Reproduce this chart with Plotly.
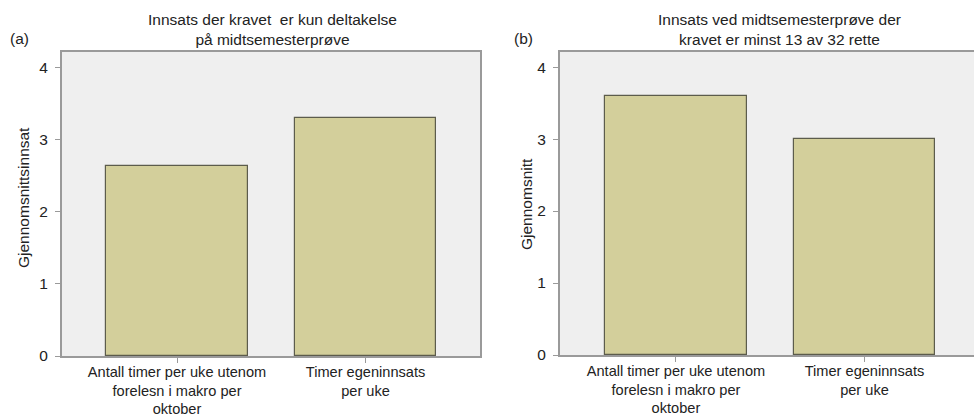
import plotly.graph_objects as go

categories = ["Antall timer per uke utenom<br>forelesn i makro per<br>oktober",
              "Timer egeninnsats<br>per uke"]
values_a = [2.63, 3.30]
values_b = [3.60, 3.00]
y_ticks = [0, 1, 2, 3, 4]
title_a = "Innsats der kravet  er kun deltakelse<br>på midtsemesterprøve"
title_b = "Innsats ved midtsemesterprøve der<br>kravet er minst 13 av 32 rette"
ytitle_a = "Gjennomsnittsinnsat"
ytitle_b = "Gjennomsnitt"

W, H = 974, 417
FONT = "Liberation Sans, Arial, sans-serif"
FS = 15.5
FS_TICK = 14.6
BAR = "#d3cf9b"
EDGE = "#5c5c4c"
AX = "#9a9a9a"
BG = "#efefef"

fig = go.Figure()
fig.add_trace(go.Bar(x=[0, 1], y=values_a, width=0.75, marker=dict(color=BAR, line=dict(color=EDGE, width=1.2)),
                     xaxis="x", yaxis="y", showlegend=False, hoverinfo="skip"))
fig.add_trace(go.Bar(x=[0, 1], y=values_b, width=0.75, marker=dict(color=BAR, line=dict(color=EDGE, width=1.2)),
                     xaxis="x2", yaxis="y2", showlegend=False, hoverinfo="skip"))

def px_x(p):
    return p / W

def px_y(p):
    return 1 - p / H

common_x = dict(tickmode="array", tickvals=[0, 1], ticktext=categories, ticks="outside", ticklen=5,
                tickcolor=AX, showline=True, linecolor=AX, linewidth=2, showgrid=False, zeroline=False,
                automargin=False, ticklabelstandoff=-4,
                tickfont=dict(family=FONT, size=FS_TICK, color="#222"), fixedrange=True)
common_y = dict(tickmode="array", tickvals=y_ticks, ticks="outside", ticklen=5, tickcolor=AX,
                showline=True, linecolor=AX, linewidth=2, showgrid=False, zeroline=False,
                automargin=False, ticklabelstandoff=4,
                range=[0, 4.21], tickfont=dict(family=FONT, size=FS, color="#222"), fixedrange=True)

fig.update_layout(
    width=W, height=H,
    margin=dict(l=0, r=0, t=0, b=0),
    paper_bgcolor="white",
    plot_bgcolor=BG,
    bargap=0,
    xaxis=dict(domain=[px_x(62), px_x(480)], range=[-0.61, 1.607], mirror=True, anchor="y", **common_x),
    yaxis=dict(domain=[px_y(356), px_y(52)], mirror=True, anchor="x", **common_y),
    xaxis2=dict(domain=[px_x(560), 1.0], range=[-0.615, 1.581], mirror=True, anchor="y2", **common_x),
    yaxis2=dict(domain=[px_y(355), px_y(52)], mirror=False, anchor="x2", **common_y),
    font=dict(family=FONT, size=FS, color="#222"),
)

ann = []
ann.append(dict(text=title_a, x=px_x(272), y=px_y(29), xref="paper", yref="paper",
                showarrow=False, xanchor="center", yanchor="middle", font=dict(size=FS)))
ann.append(dict(text=title_b, x=px_x(779), y=px_y(29), xref="paper", yref="paper",
                showarrow=False, xanchor="center", yanchor="middle", font=dict(size=FS)))
ann.append(dict(text="(a)", x=px_x(8), y=px_y(39), xref="paper", yref="paper",
                showarrow=False, xanchor="left", yanchor="middle", font=dict(size=FS)))
ann.append(dict(text="(b)", x=px_x(512), y=px_y(39), xref="paper", yref="paper",
                showarrow=False, xanchor="left", yanchor="middle", font=dict(size=FS)))
ann.append(dict(text=ytitle_a, x=px_x(24), y=px_y(198), xref="paper", yref="paper", textangle=-90,
                showarrow=False, xanchor="center", yanchor="middle", font=dict(size=FS)))
ann.append(dict(text=ytitle_b, x=px_x(526), y=px_y(204), xref="paper", yref="paper", textangle=-90,
                showarrow=False, xanchor="center", yanchor="middle", font=dict(size=FS)))
fig.update_layout(annotations=ann)

fig.write_html("out.html")
